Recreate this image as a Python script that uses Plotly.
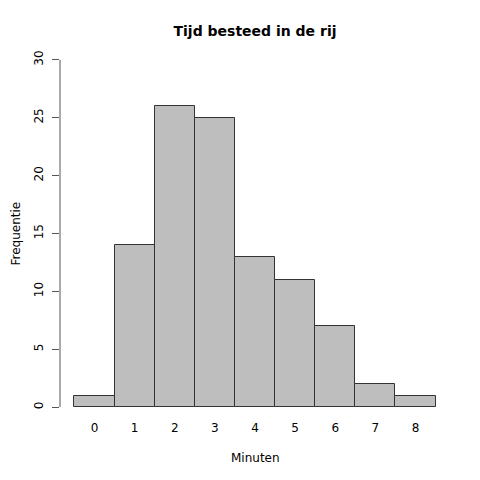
import plotly.graph_objects as go

minuten = [0, 1, 2, 3, 4, 5, 6, 7, 8]
frequentie = [1, 14, 26, 25, 13, 11, 7, 2, 1]
y_ticks = [0, 5, 10, 15, 20, 25, 30]

fig = go.Figure()
fig.add_trace(go.Bar(
    x=minuten,
    y=frequentie,
    width=1,
    marker=dict(color="#bebebe", line=dict(color="#333333", width=1)),
))

# R-style axis line: only from first to last tick
fig.add_shape(type="line", xref="paper", yref="y", x0=0, x1=0,
              y0=y_ticks[0], y1=y_ticks[-1], line=dict(color="#555555", width=1))

# axis titles placed by hand
fig.add_annotation(text="Frequentie", xref="paper", yref="paper",
                   x=-45 / 390, y=0.5, xanchor="center", yanchor="middle",
                   textangle=-90, showarrow=False, font=dict(size=12))
fig.add_annotation(text="Minuten", xref="paper", yref="paper",
                   x=0.5, y=-37 / 375, xanchor="center", yanchor="middle",
                   showarrow=False, font=dict(size=12))

fig.update_layout(
    width=480, height=480,
    margin=dict(l=52, r=38, t=38, b=67),
    plot_bgcolor="white", paper_bgcolor="white",
    font=dict(family="DejaVu Sans", size=12, color="black"),
    title=dict(text="<b>Tijd besteed in de rij</b>", x=0.5, xref="paper",
               xanchor="center", y=1 - 23 / 480, yanchor="middle",
               font=dict(size=14, color="black")),
    showlegend=False,
    bargap=0,
)
fig.update_xaxes(
    range=[-0.86, 8.86], tickvals=minuten, ticks="", showline=False,
    showgrid=False, zeroline=False, automargin=False, ticklabelstandoff=-2,
)
fig.update_yaxes(
    range=[-1.2, 31.2], tickvals=y_ticks, tickangle=-90, ticks="outside",
    ticklen=7, tickcolor="#555555", showline=False, showgrid=False,
    zeroline=False, automargin=False, ticklabelstandoff=4,
)

fig.write_html("out.html")
